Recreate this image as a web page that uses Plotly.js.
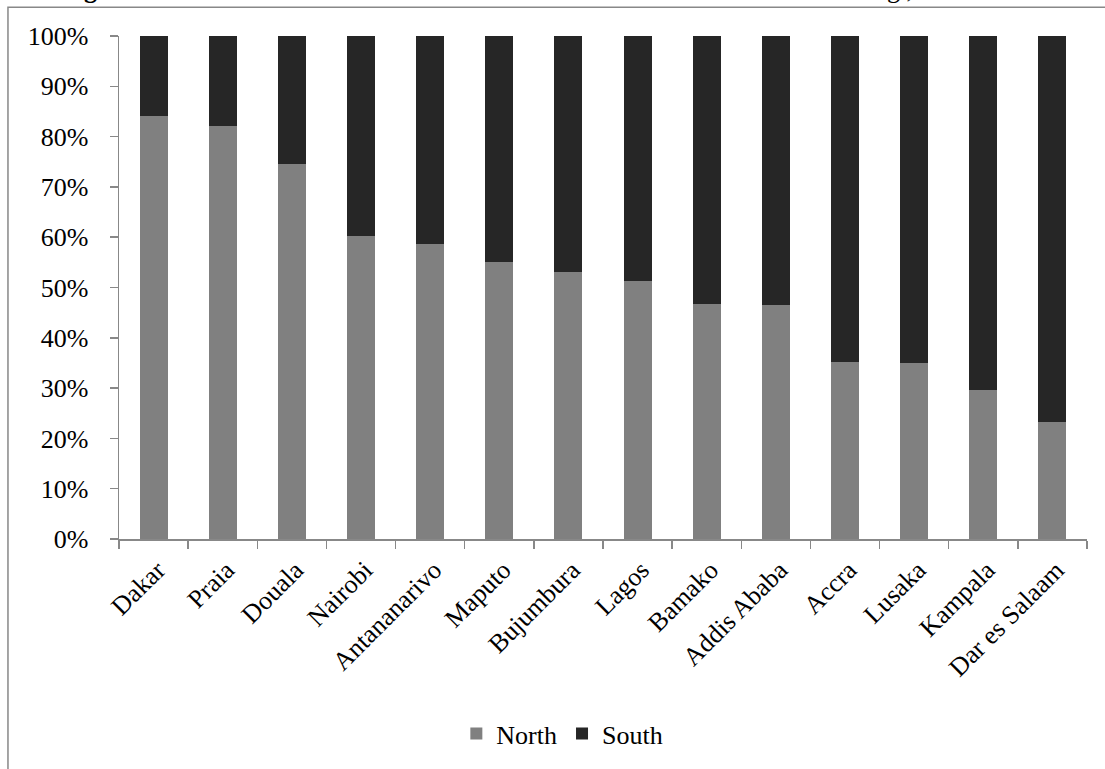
<!DOCTYPE html>
<html>
<head>
<meta charset="utf-8">
<script src="https://cdn.plot.ly/plotly-3.0.1.min.js"></script>
<style>
html,body{margin:0;padding:0;background:#fff;}
#chart{width:1105px;height:769px;}
</style>
</head>
<body>
<div id="chart"></div>
<script>
var cities = ["Dakar","Praia","Douala","Nairobi","Antananarivo","Maputo","Bujumbura","Lagos","Bamako","Addis Ababa","Accra","Lusaka","Kampala","Dar es Salaam"];
var north = [84.0, 82.1, 74.6, 60.3, 58.7, 55.0, 53.1, 51.2, 46.7, 46.5, 35.1, 35.0, 29.7, 23.3];
var south = [16.0, 17.9, 25.4, 39.7, 41.3, 45.0, 46.9, 48.8, 53.3, 53.5, 64.9, 65.0, 70.3, 76.7];
var yTickVals = [0, 10, 20, 30, 40, 50, 60, 70, 80, 90, 100];
var yTickText = ["0%","10%","20%","30%","40%","50%","60%","70%","80%","90%","100%"];

var FONT = "Liberation Serif, Times New Roman, serif";

var traces = [
  {type:"bar", name:"North", x:cities, y:north, marker:{color:"#808080", line:{width:0}}, hoverinfo:"skip"},
  {type:"bar", name:"South", x:cities, y:south, marker:{color:"#262626", line:{width:0}}, hoverinfo:"skip"}
];

var layout = {
  width:1105, height:769,
  paper_bgcolor:"#ffffff", plot_bgcolor:"#ffffff",
  margin:{l:119, r:18, t:36, b:225, pad:0},
  barmode:"stack",
  bargap:0.595,
  font:{family:FONT, size:26, color:"#000"},
  showlegend:true,
  legend:{orientation:"h", x:0.458, xanchor:"center", y:-0.387, yanchor:"middle",
          font:{family:FONT, size:26, color:"#000"}, traceorder:"normal", itemwidth:30, bgcolor:"rgba(0,0,0,0)"},
  xaxis:{type:"category", showgrid:false, zeroline:false, showline:true, linecolor:"#888", linewidth:1.5,
         ticks:"outside", tickson:"boundaries", ticklen:8, tickcolor:"#888", tickwidth:1.5, automargin:false,
         tickangle:-45, tickfont:{family:FONT, size:26, color:"#000"}, ticklabelshift:4, ticklabelstandoff:4, fixedrange:true},
  yaxis:{range:[0,100], tickvals:yTickVals, ticktext:yTickText, showgrid:false, zeroline:false, automargin:false,
         showline:true, linecolor:"#888", linewidth:1.5, ticks:"outside", ticklen:8, tickcolor:"#888", tickwidth:1.5,
         tickfont:{family:FONT, size:26, color:"#000"}, ticklabelstandoff:16, fixedrange:true},
  shapes:[
    {type:"rect", xref:"paper", yref:"paper", x0:-0.1147, x1:1.2, y0:1.0571, y1:-0.6,
     line:{color:"#888", width:1.5}, fillcolor:"rgba(0,0,0,0)", layer:"below"}
  ],
  annotations:[
    {xref:"paper", yref:"paper", x:(90-119)/968, y:(544+11)/508, xanchor:"center", yanchor:"middle",
     text:"<b>g</b>", showarrow:false, font:{family:FONT, size:26, color:"#000"}},
    {xref:"paper", yref:"paper", x:(900-119)/968, y:(544+11)/508, xanchor:"center", yanchor:"middle",
     text:"g ,", showarrow:false, font:{family:FONT, size:26, color:"#000"}}
  ]
};

Plotly.newPlot("chart", traces, layout, {displayModeBar:false, staticPlot:true});
</script>
</body>
</html>
